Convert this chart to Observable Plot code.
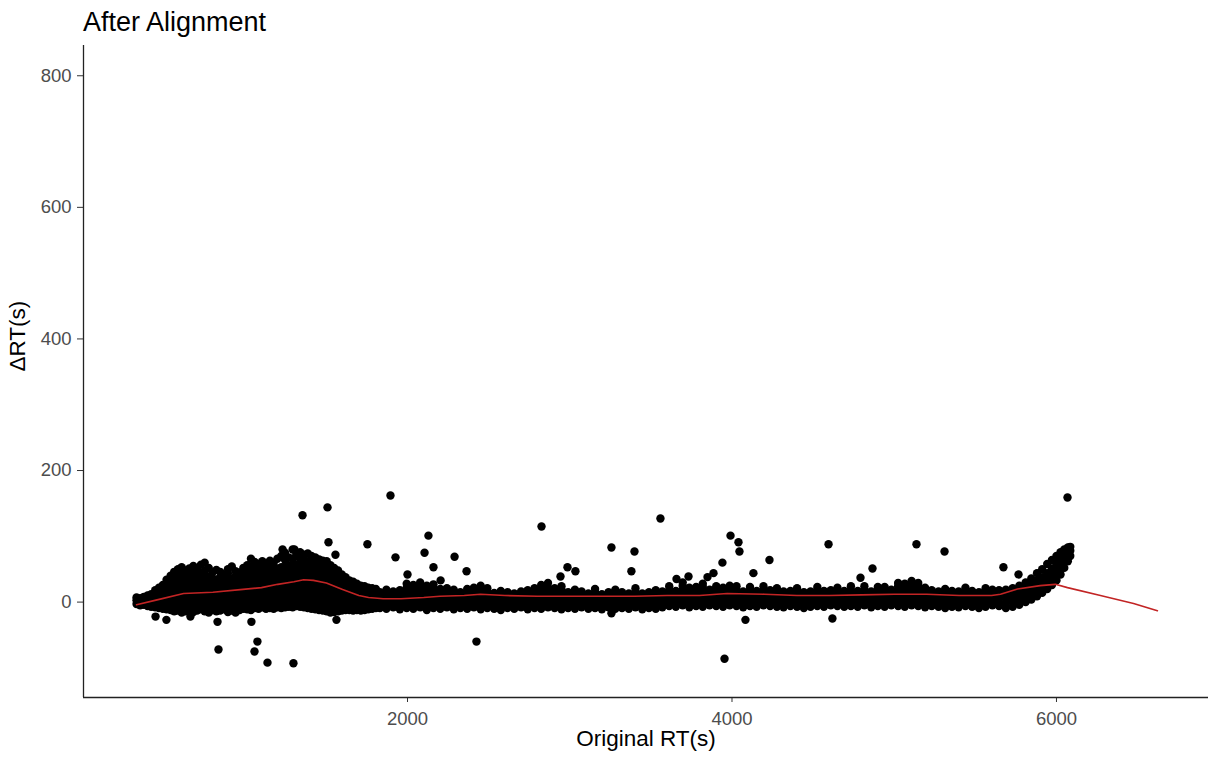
<!DOCTYPE html>
<html>
<head>
<meta charset="utf-8">
<script src="https://cdn.jsdelivr.net/npm/d3@7"></script>
<script src="https://cdn.jsdelivr.net/npm/@observablehq/plot@0.6"></script>
<style>
  body { margin: 0; background: #fff; }
  #title {
    position: absolute; left: 83px; top: 9px;
    font-family: "Liberation Sans", Arial, sans-serif;
    font-size: 27px; line-height: 1; color: #000;
  }
  #chart { position: absolute; left: 0; top: 40px; }
  #chart g[aria-label="x-axis tick label"], #chart g[aria-label="y-axis tick label"] { fill: #4d4d4d; }
  #chart g[aria-label="x-axis tick"], #chart g[aria-label="y-axis tick"] { stroke: #333; }
</style>
</head>
<body>
<div id="title">After Alignment</div>
<div id="chart"></div>
<script>
// Retention-time shift after alignment: dense band of features, grouped by RT column
const bandColumns = [
  [330, [-3, 3, 7]], [352, [-5, 1, 6]], [375, [-4, 2, 8]], [398, [-6, -1, 5, 10]],
  [420, [-7, 0, 6, 12]], [445, [-8, -2, 4, 11, 18]], [468, [-9, -3, 3, 9, 16, 22]],
  [492, [-10, -4, 2, 8, 14, 20, 26]], [515, [-11, -5, 1, 7, 13, 19, 27, 34]],
  [540, [-12, -6, 0, 6, 12, 18, 24, 31, 40]], [562, [-14, -7, -1, 5, 11, 17, 23, 29, 36, 46]],
  [585, [-13, -6, 1, 7, 13, 19, 25, 32, 40, 50]], [608, [-16, -9, -2, 4, 10, 16, 22, 28, 35, 44, 53]],
  [632, [-14, -8, -1, 6, 12, 18, 24, 30, 37, 48]], [655, [-12, -5, 2, 8, 14, 21, 27, 34, 42, 51]],
  [680, [-15, -8, -1, 5, 11, 17, 23, 29, 36, 45, 55]], [703, [-13, -6, 0, 7, 13, 19, 26, 33, 41, 50]],
  [727, [-11, -4, 3, 9, 15, 22, 28, 35, 44, 57]], [750, [-14, -7, -1, 6, 12, 18, 25, 32, 40, 48, 60]],
  [775, [-16, -9, -2, 4, 10, 17, 24, 31, 39, 52]], [798, [-12, -5, 2, 8, 15, 21, 28, 36, 45]],
  [822, [-14, -7, 0, 6, 12, 19, 26, 34, 49]], [845, [-13, -6, 1, 7, 14, 20, 27, 38, 46]],
  [870, [-11, -4, 3, 9, 16, 23, 30, 41]], [893, [-15, -8, -1, 5, 12, 18, 25, 33, 44, 50]],
  [917, [-13, -6, 1, 8, 14, 21, 28, 36, 54]], [940, [-16, -9, -2, 4, 11, 17, 24, 31, 39, 47]],
  [965, [-12, -5, 2, 9, 15, 22, 29, 37, 45]], [988, [-10, -3, 4, 10, 17, 24, 32, 41, 52]],
  [1012, [-11, -4, 3, 9, 16, 23, 30, 38, 46, 56]], [1035, [-12, -5, 2, 8, 15, 22, 29, 37, 45, 54, 66]],
  [1058, [-9, -2, 5, 11, 18, 25, 32, 40, 49, 61]], [1082, [-10, -3, 4, 10, 17, 24, 31, 39, 48, 58]],
  [1105, [-8, -1, 6, 12, 19, 26, 33, 41, 50, 62]], [1128, [-10, -3, 4, 11, 18, 25, 32, 40, 49, 57]],
  [1152, [-9, -2, 5, 12, 19, 26, 33, 42, 52, 63]], [1175, [-10, -3, 4, 11, 18, 25, 33, 41, 50, 60]],
  [1198, [-8, -1, 6, 13, 20, 27, 34, 42, 51, 66]], [1222, [-9, -2, 5, 12, 19, 26, 34, 43, 53, 70]],
  [1245, [-8, -1, 6, 13, 20, 28, 36, 44, 54, 64, 75]], [1268, [-7, 0, 7, 14, 21, 29, 37, 46, 56, 68]],
  [1292, [-8, -1, 6, 13, 21, 29, 37, 45, 55, 66, 80]], [1315, [-6, 1, 8, 15, 22, 30, 38, 47, 57, 72]],
  [1338, [-7, 0, 7, 14, 22, 30, 38, 46, 55, 65, 76]], [1362, [-8, -1, 6, 13, 21, 29, 37, 45, 54, 63, 72]],
  [1385, [-9, -2, 5, 12, 20, 28, 36, 44, 53, 62, 74]], [1408, [-10, -3, 4, 11, 19, 27, 35, 43, 52, 61, 70]],
  [1432, [-11, -4, 3, 10, 18, 26, 34, 42, 50, 60, 68]], [1455, [-12, -5, 2, 9, 17, 25, 33, 41, 49, 58, 65]],
  [1478, [-13, -6, 1, 8, 16, 24, 32, 40, 48, 56, 63]], [1502, [-14, -7, 0, 7, 15, 23, 31, 39, 47, 55, 62]],
  [1525, [-16, -9, -2, 5, 13, 21, 29, 37, 45, 56]], [1548, [-15, -8, -1, 6, 13, 20, 28, 36, 44, 52]],
  [1572, [-14, -7, 0, 7, 14, 21, 28, 35, 43, 48]], [1595, [-13, -6, 1, 8, 15, 22, 29, 36, 42]],
  [1618, [-12, -5, 2, 9, 16, 23, 30, 38]], [1642, [-12, -5, 1, 7, 14, 21, 28, 33]],
  [1665, [-13, -6, 0, 6, 13, 20, 27, 31]], [1688, [-12, -5, 1, 7, 14, 21, 28]],
  [1712, [-13, -6, 0, 6, 12, 19, 25]], [1735, [-12, -5, 1, 7, 13, 19, 24]],
  [1758, [-11, -4, 2, 8, 14, 22]], [1782, [-10, -3, 3, 9, 15, 21]], [1805, [-9, -2, 4, 10, 16, 20]],
  [1830, [-9, -3, 3, 9, 15]], [1870, [-10, -4, 2, 8, 14, 19]], [1912, [-8, -2, 4, 10, 16]],
  [1953, [-11, -5, 1, 7, 13, 18]], [1995, [-9, -3, 3, 9, 15, 22, 28]], [2036, [-10, -4, 2, 8, 14, 20, 26]],
  [2078, [-8, -2, 4, 10, 16, 23, 30]], [2119, [-12, -6, 0, 6, 12, 18, 25]], [2160, [-9, -3, 3, 9, 15, 21, 27]],
  [2202, [-10, -4, 2, 8, 14, 20]], [2243, [-8, -2, 4, 10, 16, 21]], [2285, [-11, -5, 1, 7, 13, 19]],
  [2326, [-9, -3, 3, 9, 15]], [2368, [-10, -4, 2, 8, 14, 20]], [2409, [-8, -2, 4, 10, 16, 22]],
  [2451, [-11, -5, 1, 7, 13, 19, 25]], [2492, [-9, -3, 3, 9, 15, 21]], [2534, [-10, -4, 2, 8, 14]],
  [2575, [-12, -6, 0, 6, 12, 17]], [2617, [-9, -3, 3, 9, 15]], [2658, [-10, -4, 2, 8, 13]],
  [2700, [-8, -2, 4, 10, 16]], [2741, [-11, -5, 1, 7, 13, 18]], [2783, [-9, -3, 3, 9, 15, 21]],
  [2824, [-10, -4, 2, 8, 14, 20, 26]], [2866, [-8, -2, 4, 10, 16, 22, 29]], [2907, [-9, -3, 3, 9, 15, 21]],
  [2949, [-11, -5, 1, 7, 13, 19, 24]], [2990, [-9, -3, 3, 9, 15]], [3032, [-10, -4, 2, 8, 14, 19]],
  [3073, [-8, -2, 4, 10, 16]], [3115, [-10, -4, 2, 8, 13]], [3156, [-9, -3, 3, 9, 15, 20]],
  [3198, [-11, -5, 1, 7, 12]], [3239, [-8, -2, 4, 10, 15]], [3281, [-10, -4, 2, 8, 14, 19]],
  [3322, [-9, -3, 3, 9, 15]], [3364, [-10, -4, 2, 8, 13]], [3405, [-8, -2, 4, 10, 16, 21]],
  [3447, [-11, -5, 1, 7, 13]], [3488, [-9, -3, 3, 9, 15]], [3530, [-10, -4, 2, 8, 14, 18]],
  [3571, [-8, -2, 4, 10, 16]], [3613, [-6, 0, 6, 12, 18, 24]], [3654, [-7, -1, 5, 11, 17]],
  [3696, [-5, 1, 7, 13, 19, 25, 30]], [3737, [-8, -2, 4, 10, 16, 22]], [3779, [-6, 0, 6, 12, 18, 23]],
  [3820, [-7, -1, 5, 11, 17, 23, 28]], [3862, [-5, 1, 7, 13, 19]], [3903, [-6, 0, 6, 12, 18, 24]],
  [3945, [-7, -1, 5, 11, 17, 22]], [3986, [-5, 1, 7, 13, 19, 25]], [4028, [-6, 0, 6, 12, 18, 24]],
  [4069, [-8, -2, 4, 10, 16]], [4111, [-6, 0, 6, 12, 18, 23]], [4152, [-7, -1, 5, 11, 17]],
  [4194, [-5, 1, 7, 13, 19, 24]], [4235, [-6, 0, 6, 12, 18]], [4277, [-7, -1, 5, 11, 17, 21]],
  [4318, [-8, -2, 4, 10, 16]], [4360, [-6, 0, 6, 12, 17]], [4401, [-7, -1, 5, 11, 16, 21]],
  [4443, [-9, -3, 3, 9, 15]], [4484, [-7, -1, 5, 11, 16]], [4526, [-6, 0, 6, 12, 18, 23]],
  [4567, [-7, -1, 5, 11, 17]], [4609, [-5, 1, 7, 13, 18]], [4650, [-6, 0, 6, 12, 17, 22]],
  [4692, [-7, -1, 5, 11, 17]], [4733, [-6, 0, 6, 12, 18, 24]], [4775, [-7, -1, 5, 11, 17]],
  [4816, [-5, 1, 7, 13, 19, 24]], [4858, [-8, -2, 4, 10, 16]], [4899, [-6, 0, 6, 12, 18, 23]],
  [4941, [-7, -1, 5, 11, 17, 23]], [4982, [-5, 1, 7, 13, 19]], [5024, [-6, 0, 6, 12, 18, 24, 29]],
  [5065, [-7, -1, 5, 11, 17, 23, 28]], [5107, [-5, 1, 7, 13, 19, 25, 32]], [5148, [-6, 0, 6, 12, 18, 24, 29]],
  [5190, [-8, -2, 4, 10, 16, 22]], [5231, [-6, 0, 6, 12, 18]], [5273, [-7, -1, 5, 11, 16]],
  [5314, [-9, -3, 3, 9, 15, 20]], [5356, [-7, -1, 5, 11, 17]], [5397, [-8, -2, 4, 10, 16]],
  [5439, [-6, 0, 6, 12, 18, 22]], [5480, [-7, -1, 5, 11, 17]], [5522, [-9, -3, 3, 9, 15]],
  [5563, [-7, -1, 5, 11, 17, 21]], [5605, [-5, 1, 7, 13, 19]], [5646, [-6, 0, 6, 12, 18]],
  [5688, [-9, -2, 5, 12, 19]], [5730, [-7, 0, 7, 14, 21]], [5771, [-4, 3, 10, 17, 25]],
  [5810, [0, 7, 14, 22, 30]], [5845, [4, 11, 18, 26, 36]], [5880, [9, 16, 24, 33, 44]],
  [5912, [14, 21, 29, 38, 50]], [5943, [20, 27, 35, 44, 58]], [5972, [26, 34, 42, 51, 64]],
  [6000, [33, 41, 49, 58, 70]], [6025, [42, 50, 58, 67, 76]], [6048, [52, 60, 68, 76, 80]],
  [6070, [62, 70, 78, 83]], [6085, [70, 78, 84]]
];

// Isolated features away from the band
const outlierRT = [1895, 1507, 1353, 1513, 1753, 1926, 1556, 447, 514, 662, 829, 1038, 835, 1075, 1057,
  1137, 1297, 1562, 1230, 1303, 2129, 2105, 2290, 2160, 2000, 2364, 2826, 2425, 3257, 3399, 3380, 3559,
  3257, 2986, 3035, 2943, 3658, 2204, 3991, 4040, 4046, 3941, 4231, 4132, 4595, 5137, 5310, 4866, 4792,
  4083, 4619, 3954, 3732, 3886, 3849, 6068, 5673, 5766];
const outlierDelta = [162, 144, 132, 91, 88, 68, 72, -22, -27, -22, -30, -30, -72, -60, -75,
  -92, -93, -27, 80, 80, 101, 75, 69, 53, 42, 47, 115, -60, 83, 77, 47, 127,
  -17, 53, 47, 39, 35, 33, 101, 91, 77, 60, 64, 44, 88, 88, 77, 51, 37,
  -27, -25, -86, 39, 44, 38, 159, 53, 42];

// Smoothed trend of the shift
const fitRT = [330, 450, 620, 800, 970, 1100, 1200, 1300, 1360, 1420, 1500, 1600, 1700, 1760, 1850, 1960,
  2100, 2200, 2350, 2450, 2600, 2800, 3000, 3200, 3400, 3600, 3800, 3970, 4200, 4400, 4600, 4800,
  5000, 5200, 5400, 5600, 5655, 5760, 5900, 5993, 6068, 6271, 6475, 6622];
const fitDelta = [-4, 3, 13, 15, 19, 22, 27, 31, 34, 33, 29, 19, 10, 7, 5, 5,
  7, 9, 10, 12, 10, 9, 9, 9, 9, 10, 10, 13, 12, 10, 10, 11,
  12, 12, 10, 10, 12, 20, 25, 27, 22, 10, -2, -13];

const yTicks = [0, 200, 400, 600, 800];
const xTicks = [2000, 4000, 6000];

const points = bandColumns.flatMap(([rt, ds]) => ds.map(d => ({rt, d})))
  .concat(outlierRT.map((rt, i) => ({rt, d: outlierDelta[i]})));
const fit = fitRT.map((rt, i) => ({rt, d: fitDelta[i]}));

const xMin = 3, yMin = -145;

const chart = Plot.plot({
  width: 1209,
  height: 724,
  marginTop: 5,
  marginBottom: 67,
  marginLeft: 83,
  marginRight: 1,
  x: {domain: [xMin, 6937]},
  y: {domain: [yMin, 846]},
  style: {
    fontFamily: "'Liberation Sans', Arial, sans-serif",
    fontSize: "18.5px",
    background: "#fff",
    color: "#000",
    overflow: "visible"
  },
  marks: [
    Plot.axisY({ticks: yTicks, tickSize: 6, tickPadding: 6, tickFormat: "d", label: null}),
    Plot.axisX({ticks: xTicks, tickSize: 5, tickPadding: 9, tickFormat: "d", label: null}),
    Plot.ruleX([xMin], {stroke: "#222", strokeWidth: 1.3}),
    Plot.ruleY([yMin], {stroke: "#222", strokeWidth: 1.3}),
    Plot.dot(points, {x: "rt", y: "d", r: 4.2, fill: "#000", stroke: null}),
    Plot.line(fit, {x: "rt", y: "d", stroke: "#c22424", strokeWidth: 1.6}),
    Plot.text(["Original RT(s)"], {frameAnchor: "bottom", dy: 48, fontSize: 22.5, fill: "#000"}),
    Plot.text(["ΔRT(s)"], {frameAnchor: "left", dx: -66, rotate: -90, fontSize: 22.5, fill: "#000"})
  ]
});

document.getElementById("chart").appendChild(chart);
</script>
</body>
</html>
